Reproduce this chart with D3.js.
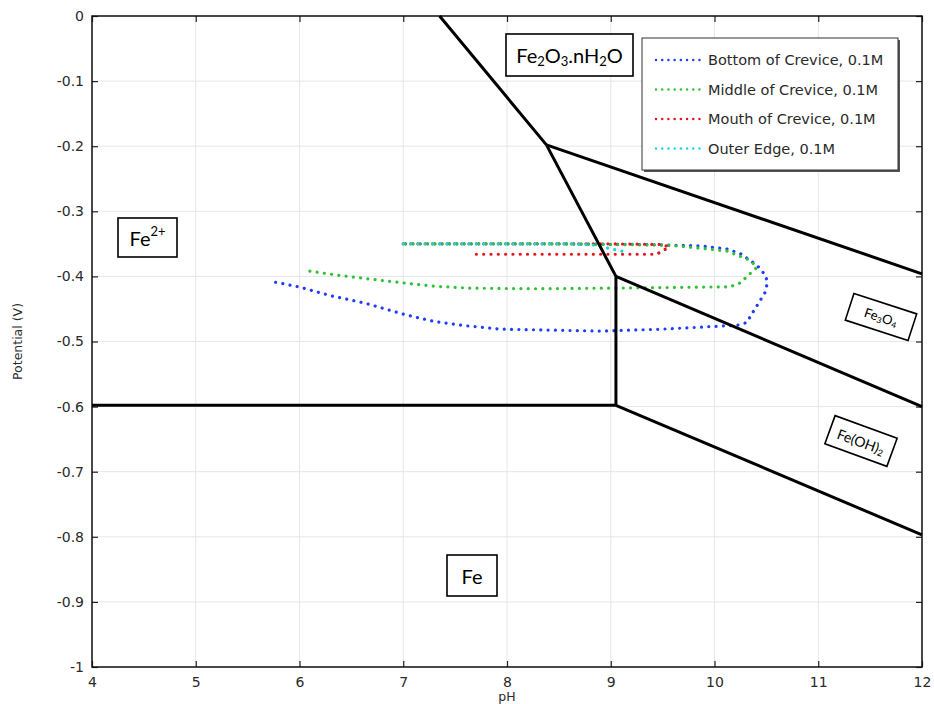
<!DOCTYPE html>
<html>
<head>
<meta charset="utf-8">
<script src="https://cdn.jsdelivr.net/npm/d3@7"></script>
<style>
  html, body { margin: 0; padding: 0; background: #fff; }
  svg { display: block; }
  text { font-family: "DejaVu Sans", sans-serif; }
</style>
</head>
<body>
<div id="chart"></div>
<script>
// Pourbaix (E–pH) diagram of iron with crevice potential/pH trajectories

const xTicks = [4, 5, 6, 7, 8, 9, 10, 11, 12];
const yTicks = [0, -0.1, -0.2, -0.3, -0.4, -0.5, -0.6, -0.7, -0.8, -0.9, -1];
const yTickLabels = ["0", "-0.1", "-0.2", "-0.3", "-0.4", "-0.5", "-0.6", "-0.7", "-0.8", "-0.9", "-1"];

// Phase boundaries [pH, E]
const boundaryA = [[7.35, 0], [8.38, -0.198], [9.05, -0.4], [9.05, -0.598]];
const boundaryB = [[4, -0.598], [9.05, -0.598]];
const boundaryC = [[8.38, -0.198], [12, -0.396]];
const boundaryD = [[9.05, -0.4], [12, -0.6]];
const boundaryE = [[9.05, -0.598], [12, -0.797]];

// Crevice trajectories [pH, E]
const bottomCrevice = [
  [5.77, -0.409], [5.99, -0.416], [6.31, -0.430], [6.63, -0.441], [7.0, -0.458],
  [7.29, -0.469], [7.61, -0.476], [7.93, -0.481], [8.27, -0.482], [8.9, -0.484],
  [9.5, -0.481], [9.86, -0.478], [10.22, -0.475], [10.31, -0.471], [10.37, -0.455],
  [10.44, -0.437], [10.49, -0.424], [10.51, -0.409], [10.49, -0.398], [10.41, -0.383],
  [10.25, -0.365], [10.12, -0.358], [9.86, -0.353], [9.3, -0.351], [8.5, -0.350], [7.0, -0.350]
];
const middleCrevice = [
  [6.10, -0.392], [6.41, -0.399], [6.78, -0.406], [7.0, -0.410], [7.29, -0.415],
  [7.64, -0.418], [8.27, -0.419], [9.0, -0.418], [9.57, -0.417], [10.15, -0.416],
  [10.25, -0.410], [10.34, -0.396], [10.41, -0.386], [10.34, -0.375], [10.12, -0.361],
  [9.57, -0.352], [8.5, -0.350], [7.0, -0.350]
];
const mouthCrevice = [
  [7.0, -0.350], [9.0, -0.350], [9.5, -0.351], [9.56, -0.355], [9.50, -0.361],
  [9.44, -0.366], [8.5, -0.366], [7.64, -0.366]
];
const outerEdge = [
  [7.0, -0.350], [8.6, -0.350], [8.85, -0.352], [9.01, -0.358], [9.16, -0.363]
];

const seriesNames = ["Bottom of Crevice, 0.1M", "Middle of Crevice, 0.1M", "Mouth of Crevice, 0.1M", "Outer Edge, 0.1M"];
const seriesColors = ["#1f3cff", "#2fc236", "#e3141c", "#1ad6d6"];

const W = 934, H = 704;
const margin = { left: 92, top: 16, right: 12, bottom: 37 };
const iw = W - margin.left - margin.right;
const ih = H - margin.top - margin.bottom;

const svg = d3.select("#chart").append("svg").attr("width", W).attr("height", H);
const g = svg.append("g").attr("transform", `translate(${margin.left},${margin.top})`);

const x = d3.scaleLinear().domain([4, 12]).range([0, iw]);
const y = d3.scaleLinear().domain([-1, 0]).range([ih, 0]);

// grid
g.append("g").selectAll("line").data(xTicks).join("line")
  .attr("x1", d => x(d)).attr("x2", d => x(d)).attr("y1", 0).attr("y2", ih)
  .attr("stroke", "#e6e6e6").attr("stroke-width", 1);
g.append("g").selectAll("line").data(yTicks).join("line")
  .attr("y1", d => y(d)).attr("y2", d => y(d)).attr("x1", 0).attr("x2", iw)
  .attr("stroke", "#e6e6e6").attr("stroke-width", 1);

// axes
const axisStyle = sel => {
  sel.select(".domain").remove();
  sel.selectAll(".tick line").attr("stroke", "#222").attr("stroke-width", 1.2);
  sel.selectAll(".tick text").attr("fill", "#2a2a2a").style("font-size", "14px")
     .style("font-family", "DejaVu Sans, sans-serif");
};
g.append("g").attr("transform", `translate(0,${ih})`)
  .call(d3.axisBottom(x).tickValues(xTicks).tickFormat(d3.format("d")).tickSizeInner(-6).tickSizeOuter(0).tickPadding(10))
  .call(axisStyle);
g.append("g")
  .call(d3.axisLeft(y).tickValues(yTicks).tickFormat((d, i) => yTickLabels[i]).tickSizeInner(-6).tickSizeOuter(0).tickPadding(8))
  .call(axisStyle);
g.append("g").attr("transform", `translate(${iw},0)`)
  .call(d3.axisRight(y).tickValues(yTicks).tickFormat("").tickSizeInner(-6).tickSizeOuter(0))
  .call(axisStyle);
g.append("g")
  .call(d3.axisTop(x).tickValues(xTicks).tickFormat("").tickSizeInner(-6).tickSizeOuter(0))
  .call(axisStyle);

// frame
g.append("rect").attr("x", 0).attr("y", 0).attr("width", iw).attr("height", ih)
  .attr("fill", "none").attr("stroke", "#111").attr("stroke-width", 1.5);

// axis titles
svg.append("text").attr("transform", `translate(22,${margin.top + ih / 2}) rotate(-90)`)
  .attr("text-anchor", "middle").attr("fill", "#2a2a2a").style("font-size", "12.5px").text("Potential (V)");
svg.append("text").attr("x", margin.left + iw / 2).attr("y", 701)
  .attr("text-anchor", "middle").attr("fill", "#2a2a2a").style("font-size", "12.5px").text("pH");

const line = d3.line().x(d => x(d[0])).y(d => y(d[1]));

// trajectories (drawn under the boundaries)
const series = [bottomCrevice, middleCrevice, mouthCrevice, outerEdge];
series.forEach((s, i) => {
  g.append("path").datum(s).attr("d", line)
    .attr("fill", "none").attr("stroke", seriesColors[i]).attr("stroke-width", 3.2)
    .attr("stroke-linecap", "round").attr("stroke-dasharray", "0.01 7.3");
});

// boundaries
[boundaryA, boundaryB, boundaryC, boundaryD, boundaryE].forEach(b => {
  g.append("path").datum(b).attr("d", line)
    .attr("fill", "none").attr("stroke", "#000").attr("stroke-width", 3)
    .attr("stroke-linejoin", "round");
});

// boxed region labels
function boxLabel(cx, cy, w, h, angle, parts, size) {
  const lg = svg.append("g").attr("transform", `translate(${cx},${cy}) rotate(${angle})`);
  lg.append("rect").attr("x", -w / 2).attr("y", -h / 2).attr("width", w).attr("height", h)
    .attr("fill", "#fff").attr("stroke", "#000").attr("stroke-width", 1.6);
  const t = lg.append("text").attr("text-anchor", "middle").attr("dominant-baseline", "central")
    .attr("fill", "#000").style("font-family", "Lato, 'Open Sans', sans-serif").style("font-size", size + "px");
  parts.forEach(p => {
    const ts = t.append("tspan").text(p.t);
    if (p.sub) ts.attr("dy", size * 0.28).style("font-size", (size * 0.65) + "px");
    if (p.sup) ts.attr("dy", -size * 0.35).style("font-size", (size * 0.65) + "px");
    if (p.back) ts.attr("dy", p.back);
  });
}
boxLabel(569.5, 55, 127, 42, 0,
  [{ t: "Fe" }, { t: "2", sub: true }, { t: "O", back: -20 * 0.28 }, { t: "3", sub: true },
   { t: ".nH", back: -20 * 0.28 }, { t: "2", sub: true }, { t: "O", back: -20 * 0.28 }], 20);
boxLabel(147.5, 237.5, 59, 39, 0, [{ t: "Fe" }, { t: "2+", sup: true }], 20);
boxLabel(472, 575.5, 50, 41, 0, [{ t: "Fe" }], 20);
boxLabel(881, 317, 66, 28, 18,
  [{ t: "Fe" }, { t: "3", sub: true }, { t: "O", back: -13 * 0.28 }, { t: "4", sub: true }], 13);
boxLabel(861, 441, 66, 30, 20,
  [{ t: "Fe(OH)" }, { t: "2", sub: true }], 14);

// legend
const lgX = 642, lgY = 38, lgW = 256, lgH = 132;
svg.append("rect").attr("x", lgX + 2).attr("y", lgY + 2).attr("width", lgW).attr("height", lgH)
  .attr("fill", "#555");
svg.append("rect").attr("x", lgX).attr("y", lgY).attr("width", lgW).attr("height", lgH)
  .attr("fill", "#fff").attr("stroke", "#333").attr("stroke-width", 1);
seriesNames.forEach((name, i) => {
  const yy = lgY + 22 + i * 29.5;
  svg.append("line").attr("x1", lgX + 14).attr("x2", lgX + 58).attr("y1", yy).attr("y2", yy)
    .attr("stroke", seriesColors[i]).attr("stroke-width", 2.5).attr("stroke-linecap", "round")
    .attr("stroke-dasharray", "0.01 6.2");
  svg.append("text").attr("x", lgX + 66).attr("y", yy).attr("dominant-baseline", "central")
    .attr("fill", "#2a2a2a").style("font-size", "14.5px").text(name);
});
</script>
</body>
</html>
